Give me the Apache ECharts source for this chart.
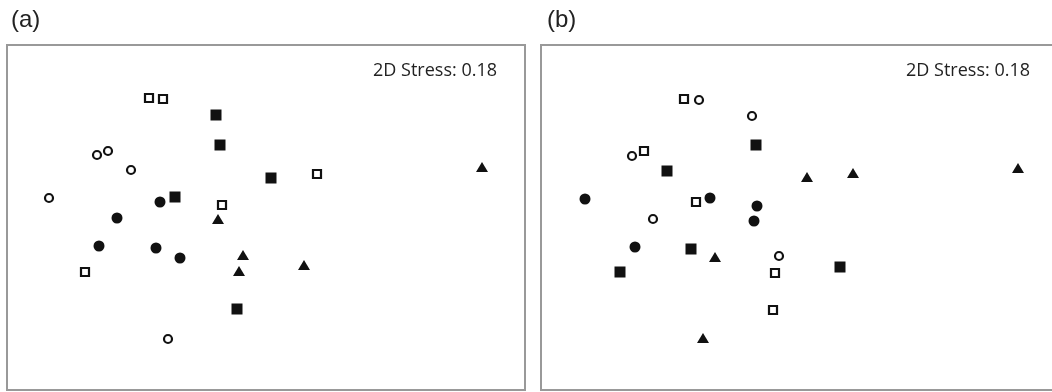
<!DOCTYPE html>
<html>
<head>
<meta charset="utf-8">
<script src="https://cdn.jsdelivr.net/npm/echarts@6/dist/echarts.min.js"></script>
<style>
html,body{margin:0;padding:0;background:#fff;}
#chart{width:1052px;height:392px;}
</style>
</head>
<body>
<div id="chart"></div>
<script>
// NMDS ordination coordinates (arbitrary units)
// Panel (a)
var aOpenCircle   = [[90,235],[101,239],[124,220],[42,192],[161,51]];
var aOpenSquare   = [[142,292],[156,291],[310,216],[215,185],[78,118]];
var aFilledSquare = [[209,275],[213,245],[264,212],[168,193],[230,81]];
var aFilledCircle = [[153,188],[110,172],[92,144],[149,142],[173,132]];
var aTriangle     = [[475,223],[211,171],[236,135],[232,119],[297,125]];
// Panel (b)
var bOpenCircle   = [[158,290],[211,274],[91,234],[112,171],[238,134]];
var bOpenSquare   = [[143,291],[103,239],[155,188],[234,117],[232,80]];
var bFilledSquare = [[215,245],[126,219],[150,141],[79,118],[299,123]];
var bFilledCircle = [[44,191],[169,192],[216,184],[213,169],[94,143]];
var bTriangle     = [[266,213],[312,217],[477,222],[174,133],[162,52]];

var panelLabels = ['(a)', '(b)'];
var stressText = '2D Stress: 0.18';

var styles = {
  openCircle:   {symbol:'circle', symbolSize:8, itemStyle:{color:'#fff', borderColor:'#111', borderWidth:2.2, opacity:1}},
  openSquare:   {symbol:'rect', symbolSize:8, itemStyle:{color:'#fff', borderColor:'#111', borderWidth:2.2, opacity:1}},
  filledSquare: {symbol:'rect', symbolSize:11, itemStyle:{color:'#111', opacity:1}},
  filledCircle: {symbol:'circle', symbolSize:11, itemStyle:{color:'#111', opacity:1}},
  triangle:     {symbol:'triangle', symbolSize:[12,10], itemStyle:{color:'#111', opacity:1}}
};

function mk(data, key, idx){
  var s = styles[key];
  return {
    type:'scatter', xAxisIndex:idx, yAxisIndex:idx, data:data,
    symbol:s.symbol, symbolSize:s.symbolSize, itemStyle:s.itemStyle,
    silent:true, animation:false
  };
}

var series = [
  mk(aOpenCircle,'openCircle',0), mk(aOpenSquare,'openSquare',0),
  mk(aFilledSquare,'filledSquare',0), mk(aFilledCircle,'filledCircle',0),
  mk(aTriangle,'triangle',0),
  mk(bOpenCircle,'openCircle',1), mk(bOpenSquare,'openSquare',1),
  mk(bFilledSquare,'filledSquare',1), mk(bFilledCircle,'filledCircle',1),
  mk(bTriangle,'triangle',1)
];

function ax(i, max){
  return {gridIndex:i, min:0, max:max, show:false, type:'value'};
}

var chart = echarts.init(document.getElementById('chart'), null, {renderer:'canvas'});
chart.setOption({
  animation:false,
  backgroundColor:'#fff',
  grid:[
    {left:7, top:45, width:518, height:345, show:false},
    {left:541, top:45, width:511, height:345, show:false}
  ],
  xAxis:[ax(0,518), ax(1,511)],
  yAxis:[ax(0,345), ax(1,345)],
  series:series,
  graphic:[
    {type:'rect', z:-1, shape:{x:7, y:45, width:518, height:345}, style:{fill:'#fff', stroke:'#999', lineWidth:2}},
    {type:'rect', z:-1, shape:{x:541, y:45, width:518, height:345}, style:{fill:'#fff', stroke:'#999', lineWidth:2}},
    {type:'text', left:11, top:8, style:{text:panelLabels[0], font:'24px "Liberation Sans", Arial, sans-serif', fill:'#222'}},
    {type:'text', left:547, top:8, style:{text:panelLabels[1], font:'24px "Liberation Sans", Arial, sans-serif', fill:'#222'}},
    {type:'text', x:497, y:71, style:{text:stressText, font:'18px "Open Sans", sans-serif', fill:'#222', textAlign:'right', textVerticalAlign:'middle'}},
    {type:'text', x:1030, y:71, style:{text:stressText, font:'18px "Open Sans", sans-serif', fill:'#222', textAlign:'right', textVerticalAlign:'middle'}}
  ]
});
</script>
</body>
</html>
